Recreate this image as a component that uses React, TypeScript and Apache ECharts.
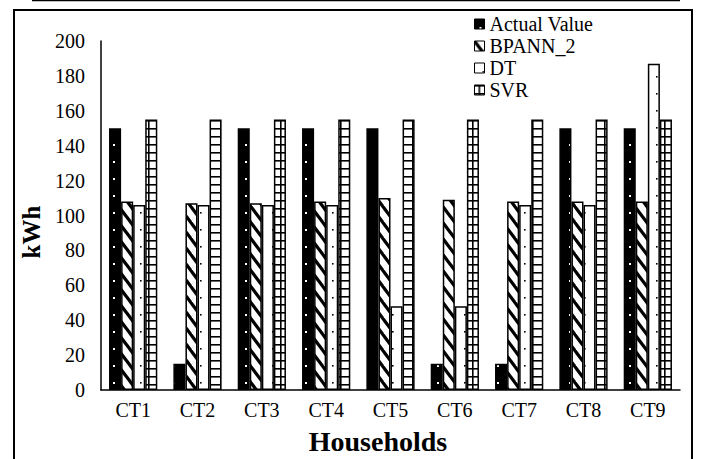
import React, { useEffect, useRef } from "react";
import * as echarts from "echarts";

const categories = ["CT1", "CT2", "CT3", "CT4", "CT5", "CT6", "CT7", "CT8", "CT9"];
const actualValue = [150, 15, 150, 150, 150, 15, 15, 150, 150];
const bpann2 = [108, 107, 107, 108, 110, 109, 108, 108, 108];
const dt = [106, 106, 106, 106, 48, 48, 106, 106, 187];
const svr = [155, 155, 155, 155, 155, 155, 155, 155, 155];
const yTicks = { min: 0, max: 200, interval: 20 };

const FONT = "'Liberation Serif', 'Times New Roman', serif";

function tile(w: number, h: number, draw: (ctx: CanvasRenderingContext2D) => void) {
  const c = document.createElement("canvas");
  c.width = w;
  c.height = h;
  const ctx = c.getContext("2d")!;
  draw(ctx);
  return c;
}

function makePatterns() {
  // solid black with small white dots
  const dotsOnBlack = tile(12, 17, (ctx) => {
    ctx.fillStyle = "#000";
    ctx.fillRect(0, 0, 12, 17);
    ctx.fillStyle = "#fff";
    ctx.fillRect(5, 8, 2, 2);
  });
  // thick "\" stripes
  const stripes = tile(12, 16, (ctx) => {
    ctx.fillStyle = "#fff";
    ctx.fillRect(0, 0, 12, 16);
    ctx.strokeStyle = "#000";
    ctx.lineWidth = 3.2;
    for (const dy of [-16, 0, 16]) {
      ctx.beginPath();
      ctx.moveTo(-12, dy - 16);
      ctx.lineTo(24, dy + 32);
      ctx.stroke();
    }
  });
  // white with sparse black dots
  const sparseDots = tile(12, 17, (ctx) => {
    ctx.fillStyle = "#fff";
    ctx.fillRect(0, 0, 12, 17);
    ctx.fillStyle = "#000";
    ctx.fillRect(8, 8, 1.6, 1.6);
  });
  // brick / ladder grid
  const bricks = tile(12, 8, (ctx) => {
    ctx.fillStyle = "#fff";
    ctx.fillRect(0, 0, 12, 8);
    ctx.fillStyle = "#000";
    ctx.fillRect(0, 0, 12, 1.6);
    ctx.fillRect(4, 0, 1.6, 8);
  });
  const pat = (c: HTMLCanvasElement) => ({
    image: c,
    repeat: "repeat",
    imageWidth: c.width,
    imageHeight: c.height,
  });
  return {
    actual: pat(dotsOnBlack),
    bpann: pat(stripes),
    dt: pat(sparseDots),
    svr: pat(bricks),
  };
}

export default function App() {
  const ref = useRef<HTMLDivElement>(null);

  useEffect(() => {
    if (!ref.current) return;
    const chart = echarts.init(ref.current, undefined, { renderer: "svg" });
    const p = makePatterns();

    const barSeries = (name: string, data: number[], color: any) => ({
      name,
      type: "bar",
      data,
      barGap: "0%",
      barCategoryGap: "25%",
      itemStyle: { color, borderColor: "#000", borderWidth: 1.5 },
    });

    chart.setOption({
      animation: false,
      backgroundColor: "#fff",
      textStyle: { fontFamily: FONT, color: "#000" },
      grid: { left: 101, right: 21, top: 41, bottom: 69 },
      legend: {
        orient: "vertical",
        left: 469,
        top: 8,
        itemWidth: 10,
        itemHeight: 10,
        itemGap: 0,
        icon: "rect",
        itemStyle: { borderColor: "#000", borderWidth: 1 },
        textStyle: { fontFamily: FONT, fontSize: 20, color: "#000", lineHeight: 22 },
        data: ["Actual Value", "BPANN_2", "DT", "SVR"],
      },
      xAxis: {
        type: "category",
        data: categories,
        axisLine: { lineStyle: { color: "#000", width: 1.5 } },
        axisTick: { show: false },
        axisLabel: { fontFamily: FONT, fontSize: 20, color: "#000", margin: 10 },
      },
      yAxis: {
        type: "value",
        min: yTicks.min,
        max: yTicks.max,
        interval: yTicks.interval,
        axisLine: { show: true, lineStyle: { color: "#000", width: 1.5 } },
        axisTick: { show: false },
        splitLine: { show: false },
        axisLabel: { fontFamily: FONT, fontSize: 20, color: "#000", margin: 16 },
      },
      graphic: [
        {
          type: "line",
          shape: { x1: 32, y1: 0.5, x2: 680, y2: 0.5 },
          style: { stroke: "#000", lineWidth: 1.5 },
        },
        {
          type: "rect",
          shape: { x: 14, y: 10, width: 678, height: 470 },
          style: { fill: "none", stroke: "#000", lineWidth: 2 },
          z: 100,
        },
        {
          type: "text",
          x: 31,
          y: 232,
          rotation: Math.PI / 2,
          style: {
            text: "kWh",
            font: `bold 25px ${FONT}`,
            fill: "#000",
            align: "center",
            verticalAlign: "middle",
          },
        },
        {
          type: "text",
          x: 378,
          y: 441,
          style: {
            text: "Households",
            font: `bold 28px ${FONT}`,
            fill: "#000",
            align: "center",
            verticalAlign: "middle",
          },
        },
      ],
      series: [
        barSeries("Actual Value", actualValue, p.actual),
        barSeries("BPANN_2", bpann2, p.bpann),
        barSeries("DT", dt, p.dt),
        barSeries("SVR", svr, p.svr),
      ],
    });

    return () => chart.dispose();
  }, []);

  return <div ref={ref} style={{ width: 701, height: 459, position: "absolute", left: 0, top: 0 }} />;
}
